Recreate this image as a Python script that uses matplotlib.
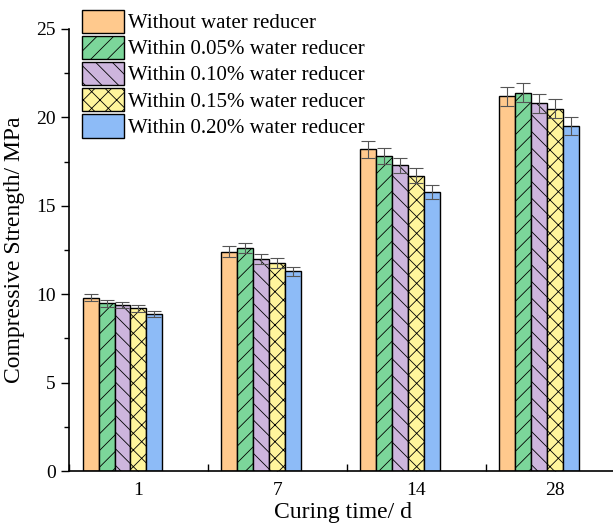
import numpy as np
import matplotlib
matplotlib.use('Agg')
import matplotlib.pyplot as plt
from matplotlib.ticker import MultipleLocator

plt.rcParams['font.family'] = ['Liberation Serif', 'DejaVu Serif']
plt.rcParams['hatch.linewidth'] = 0.6
plt.rcParams['hatch.color'] = '#333333'

curing_days = ['1', '7', '14', '28']
series_names = ['Without water reducer',
                'Within 0.05% water reducer',
                'Within 0.10% water reducer',
                'Within 0.15% water reducer',
                'Within 0.20% water reducer']

without_wr = [9.8, 12.4, 18.2, 21.2]
wr_005 = [9.5, 12.6, 17.8, 21.4]
wr_010 = [9.4, 12.0, 17.3, 20.8]
wr_015 = [9.2, 11.75, 16.7, 20.5]
wr_020 = [8.9, 11.3, 15.8, 19.5]

err_without = [0.2, 0.3, 0.47, 0.54]
err_005 = [0.2, 0.27, 0.46, 0.53]
err_010 = [0.18, 0.28, 0.42, 0.55]
err_015 = [0.2, 0.27, 0.41, 0.54]
err_020 = [0.17, 0.26, 0.4, 0.5]

values = [without_wr, wr_005, wr_010, wr_015, wr_020]
errors = [err_without, err_005, err_010, err_015, err_020]
colors = ['#FFC98D', '#7CD69A', '#CDB5DD', '#FFF59C', '#8DBBF7']
hatches = ['', '//', '\\\\', 'xx', '']

fig = plt.figure(figsize=(6.13, 5.3), dpi=100)
ax = fig.add_axes([0.1126, 0.1113, 0.895, 0.834])

x = np.arange(len(curing_days))
w = 0.115
for i in range(5):
    ax.bar(x + (i - 3) * w, values[i], width=w, color=colors[i], edgecolor='black',
           linewidth=1.0, hatch=hatches[i], label=series_names[i], zorder=2)
    ax.errorbar(x + (i - 3) * w, values[i], yerr=errors[i], fmt='none',
                ecolor='#555555', elinewidth=0.8, capsize=5, capthick=0.8, zorder=3)

ax.set_xlim(-0.5, 3.45)
ax.set_ylim(0, 25)
ax.set_xticks(x)
ax.set_xticklabels(curing_days)
ax.xaxis.set_minor_locator(MultipleLocator(0.5))
ax.yaxis.set_major_locator(MultipleLocator(5))
ax.yaxis.set_minor_locator(MultipleLocator(2.5))
ax.tick_params(axis='x', which='both', direction='in', length=5, width=1, labelsize=14, pad=8)
ax.tick_params(axis='y', which='major', direction='out', length=6, width=1, labelsize=14)
ax.tick_params(axis='y', which='minor', direction='out', length=3.5, width=1)

ax.spines['top'].set_visible(False)
ax.spines['right'].set_visible(False)
ax.spines['left'].set_linewidth(1.2)
ax.spines['bottom'].set_linewidth(1.2)

ax.set_xlabel('Curing time/ d', fontsize=17, labelpad=2)
ax.set_ylabel('Compressive Strength/ MPa', fontsize=17, labelpad=8)

ax.legend(loc='upper left', bbox_to_anchor=(0.024, 1.044), frameon=False, fontsize=15,
          handlelength=2.0, handleheight=1.35, handletextpad=0.2, labelspacing=0.12,
          borderaxespad=0.0, borderpad=0.0)

plt.savefig('out.png', dpi=100)
